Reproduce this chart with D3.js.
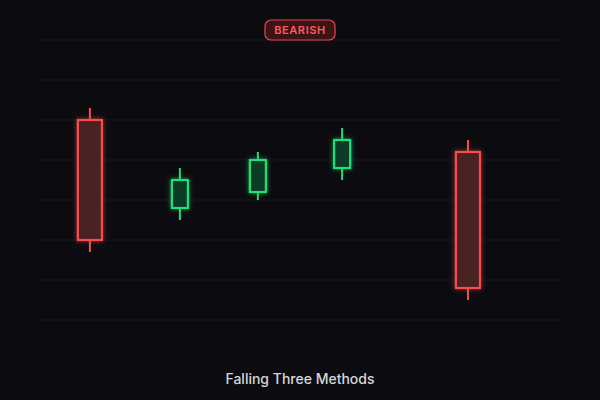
<!DOCTYPE html>
<html>
<head>
<meta charset="utf-8">
<script src="https://cdn.jsdelivr.net/npm/d3@7"></script>
<style>
  html, body { margin: 0; padding: 0; background: #0c0c10; }
  svg { display: block; }
</style>
</head>
<body>
<svg id="chart" width="600" height="400"></svg>
<script>
// ---- data ----
const slots   = [0.96, 2.69, 4.19, 5.81, 8.23];   // position along the time axis
const opens   = [50, 28, 32, 38, 42];
const highs   = [53, 38, 42, 48, 45];
const lows    = [17, 25, 30, 35, 5];
const closes  = [20, 35, 40, 45, 8];
const bodyKind = ["big", "small", "small", "small", "big"];
const gridTicks = [0, 10, 20, 30, 40, 50, 60, 70];
const badgeText = "BEARISH";
const titleText = "Falling Three Methods";

const candles = slots.map((s, i) => ({
  s, o: opens[i], h: highs[i], l: lows[i], c: closes[i], kind: bodyKind[i]
}));

const W = 600, H = 400;
const svg = d3.select("#chart");
svg.append("rect").attr("width", W).attr("height", H).attr("fill", "#0c0c10");

const x = d3.scaleLinear().domain([0, 10]).range([40, 560]);
const y = d3.scaleLinear().domain([0, 70]).range([320, 40]);

const defs = svg.append("defs");
function glow(id, color) {
  const f = defs.append("filter").attr("id", id)
    .attr("x", "-50%").attr("y", "-20%").attr("width", "200%").attr("height", "140%");
  f.append("feDropShadow").attr("dx", 0).attr("dy", 0)
    .attr("stdDeviation", 2.5).attr("flood-color", color).attr("flood-opacity", 0.6);
}
glow("glowRed", "#ff4d4d");
glow("glowGreen", "#1fe07a");

// grid
svg.append("g").selectAll("line").data(gridTicks).join("line")
  .attr("x1", x(0)).attr("x2", x(10))
  .attr("y1", d => y(d)).attr("y2", d => y(d))
  .attr("stroke", "#141419").attr("stroke-width", 1.5);

const RED = "#f84c4c", GREEN = "#1fe07a";
const g = svg.append("g");
const cg = g.selectAll("g.candle").data(candles).join("g").attr("class", "candle");

cg.append("line")
  .attr("x1", d => x(d.s)).attr("x2", d => x(d.s))
  .attr("y1", d => y(d.h)).attr("y2", d => y(d.l))
  .attr("stroke", d => d.c >= d.o ? GREEN : RED)
  .attr("stroke-width", 2);

const bw = d => d.kind === "big" ? 24 : 16;
cg.append("rect")
  .attr("x", d => x(d.s) - bw(d) / 2)
  .attr("width", bw)
  .attr("y", d => y(Math.max(d.o, d.c)))
  .attr("height", d => Math.abs(y(d.o) - y(d.c)))
  .attr("fill", d => d.c >= d.o ? "#0f3a25" : "#4a2022")
  .attr("stroke", d => d.c >= d.o ? GREEN : RED)
  .attr("stroke-width", 2.2)
  .attr("filter", d => d.c >= d.o ? "url(#glowGreen)" : "url(#glowRed)");

// badge
const badge = svg.append("g");
badge.append("rect")
  .attr("x", 265).attr("y", 20).attr("width", 70).attr("height", 20)
  .attr("rx", 6).attr("ry", 6)
  .attr("fill", "#3b1417").attr("stroke", "#e8474b").attr("stroke-width", 1.2);
badge.append("text")
  .attr("x", 300).attr("y", 34)
  .attr("text-anchor", "middle")
  .attr("font-family", "Inter, 'DejaVu Sans', sans-serif")
  .attr("font-weight", 600).attr("font-size", 11)
  .attr("letter-spacing", 0.6)
  .attr("fill", "#ff5a5a")
  .text(badgeText);

// title
svg.append("text")
  .attr("x", 300).attr("y", 384)
  .attr("text-anchor", "middle")
  .attr("font-family", "Inter, 'DejaVu Sans', sans-serif")
  .attr("font-weight", 500).attr("font-size", 14)
  .attr("fill", "#d6d6da")
  .text(titleText);
</script>
</body>
</html>
